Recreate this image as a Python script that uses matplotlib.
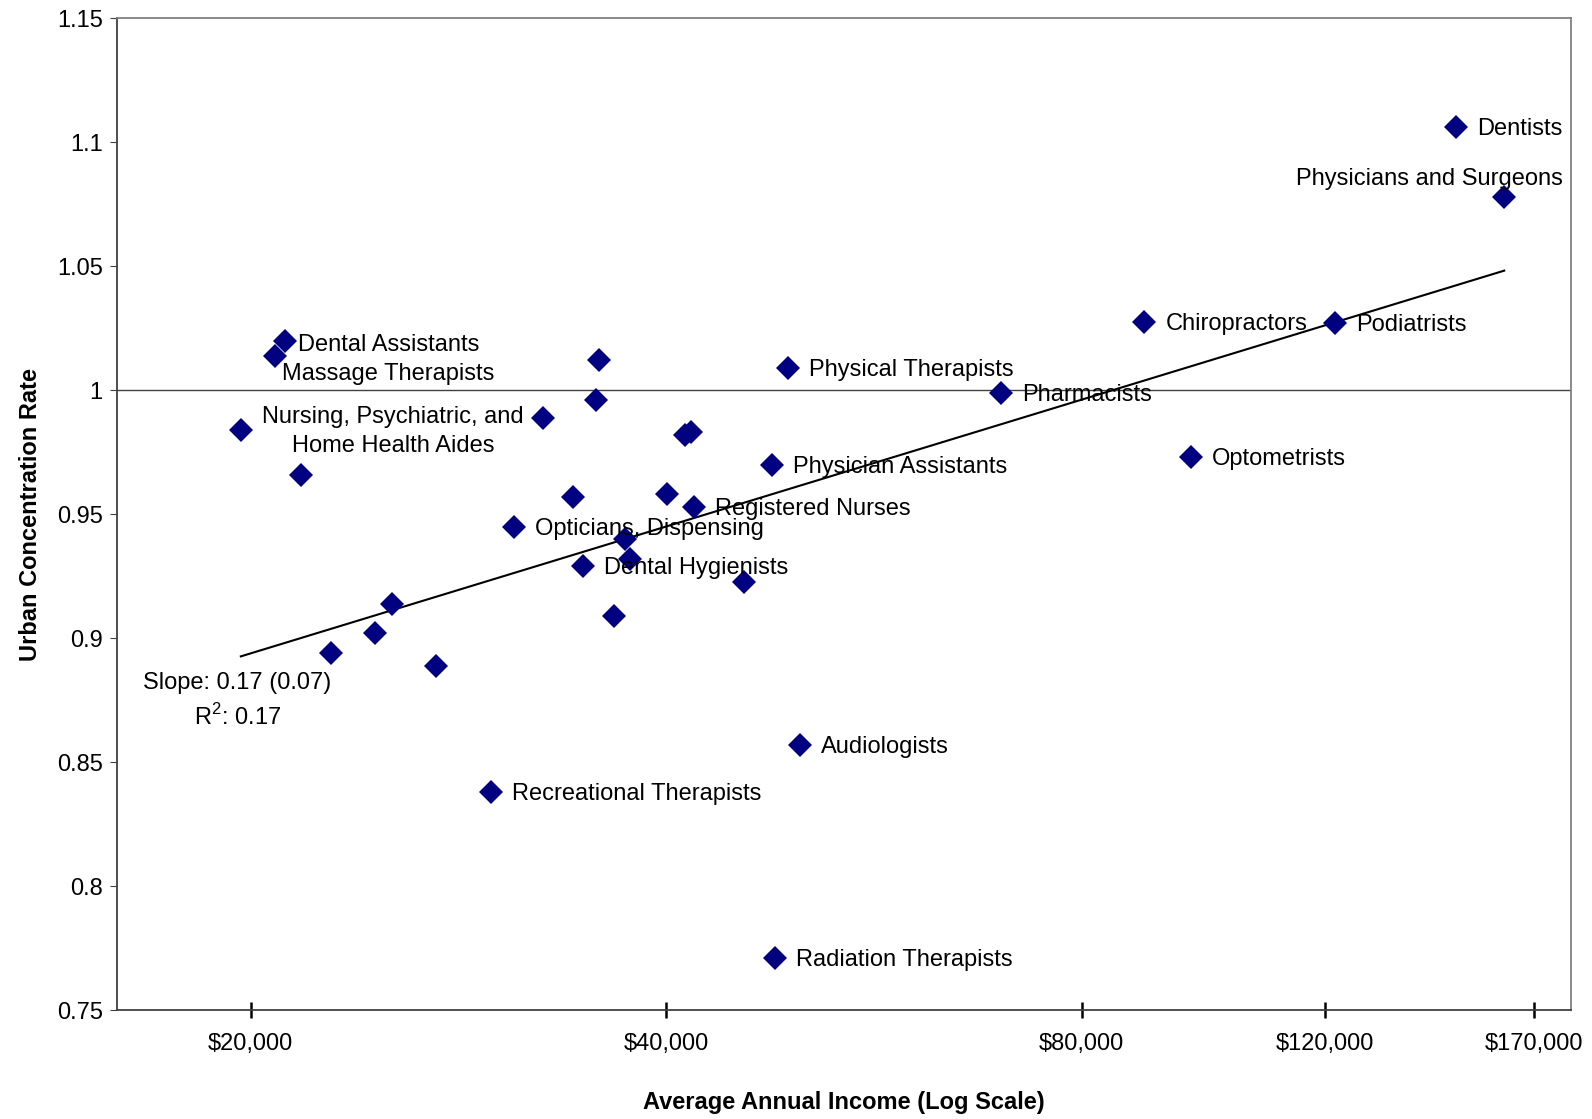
import numpy as np
import matplotlib.pyplot as plt

plt.rcParams['font.family'] = ['Liberation Sans', 'DejaVu Sans']
plt.rcParams['mathtext.fontset'] = 'custom'
plt.rcParams['mathtext.rm'] = 'Liberation Sans'

# labelled occupations: average annual income and urban concentration rate
occupations = ['Dentists', 'Physicians and Surgeons', 'Podiatrists', 'Chiropractors',
               'Optometrists', 'Pharmacists', 'Physical Therapists', 'Physician Assistants',
               'Registered Nurses', 'Audiologists', 'Radiation Therapists',
               'Recreational Therapists', 'Opticians, Dispensing', 'Dental Hygienists',
               'Dental Assistants', 'Massage Therapists',
               'Nursing, Psychiatric, and\nHome Health Aides']
income = [149400, 161800, 122100, 88800, 96000, 69900, 48980, 47750,
          41900, 49990, 47920, 29860, 31050, 34840, 21200, 20850, 19680]
urban_rate = [1.106, 1.078, 1.027, 1.0275, 0.973, 0.999, 1.009, 0.970,
              0.953, 0.857, 0.771, 0.838, 0.945, 0.929, 1.020, 1.014, 0.984]

# remaining occupations, plotted without a label
other_income = [21750, 32560, 35740, 35560, 41270, 41700, 34250, 40030,
                37340, 37660, 36660, 45540, 25330, 24610, 22890, 27250]
other_rate = [0.966, 0.989, 1.012, 0.996, 0.982, 0.983, 0.957, 0.958,
              0.940, 0.932, 0.909, 0.9225, 0.914, 0.902, 0.894, 0.889]

# reported regression of rate on log10(income)
fit_slope = 0.17
fit_intercept = 0.1627

x_ticks = [20000, 40000, 80000, 120000, 170000]
x_tick_labels = [r'\$20,000', r'\$40,000', r'\$80,000', r'\$120,000', r'\$170,000']
y_ticks = [0.75, 0.8, 0.85, 0.9, 0.95, 1.0, 1.05, 1.1, 1.15]
y_tick_labels = ['0.75', '0.8', '0.85', '0.9', '0.95', '1', '1.05', '1.1', '1.15']

# label placement (pixels from the marker, alignment); default sits to the right
label_place = {
    'Physicians and Surgeons': (59, 18, 'right'),
    'Dental Assistants': (13, -4, 'left'),
    'Massage Therapists': (7, -18, 'left'),
    'Nursing, Psychiatric, and\nHome Health Aides': (152, -2, 'center'),
}

navy = '#000080'
fs = 17

fig = plt.figure(figsize=(15.92, 11.19), dpi=100)
ax = fig.add_axes([0.0733, 0.0972, 0.9138, 0.8865])

all_income = np.array(income + other_income)
all_rate = np.array(urban_rate + other_rate)

# reference line at 1 and the fitted trend across the income range
ax.axhline(1.0, color='#404040', lw=1.0, zorder=1)
xs = np.array([all_income.min(), all_income.max()])
ax.plot(xs, fit_intercept + fit_slope * np.log10(xs), color='black', lw=1.5, zorder=2)

ax.plot(all_income, all_rate, 'D', color=navy, ms=12, mew=0, zorder=3)

for name, x, y in zip(occupations, income, urban_rate):
    dx, dy, ha = label_place.get(name, (21, -2, 'left'))
    ax.annotate(name, (x, y), xytext=(dx, dy), textcoords='offset pixels',
                ha=ha, va='center', fontsize=fs, linespacing=1.42, zorder=4)

ax.text(0.083, 0.330, f'Slope: {fit_slope:.2f} (0.07)', transform=ax.transAxes,
        ha='center', va='center', fontsize=fs)
ax.text(0.083, 0.296, r'R$^\mathregular{2}$: 0.17', transform=ax.transAxes,
        ha='center', va='center', fontsize=fs)

ax.set_xscale('log')
ax.set_xlim(16000, 181000)
ax.set_ylim(0.75, 1.15)
ax.set_xticks(x_ticks)
ax.set_xticklabels(x_tick_labels)
ax.xaxis.set_minor_locator(plt.NullLocator())
ax.set_yticks(y_ticks)
ax.set_yticklabels(y_tick_labels)

ax.tick_params(axis='x', direction='inout', length=11.5, width=1.8, color='black',
               pad=11, labelsize=fs)
ax.tick_params(axis='y', direction='out', length=5, width=0.8, color='#404040',
               pad=5, labelsize=fs)

for side in ['left', 'bottom']:
    ax.spines[side].set_color('#404040')
    ax.spines[side].set_linewidth(1.3)
for side in ['top', 'right']:
    ax.spines[side].set_color('#808080')
    ax.spines[side].set_linewidth(1.3)

fig.text(0.0192, 0.5404, 'Urban Concentration Rate', rotation=90,
         ha='center', va='center', fontsize=fs, fontweight='bold')
fig.text(0.5300, 0.0143, 'Average Annual Income (Log Scale)',
         ha='center', va='center', fontsize=fs, fontweight='bold')

fig.savefig('out.png', dpi=100)
